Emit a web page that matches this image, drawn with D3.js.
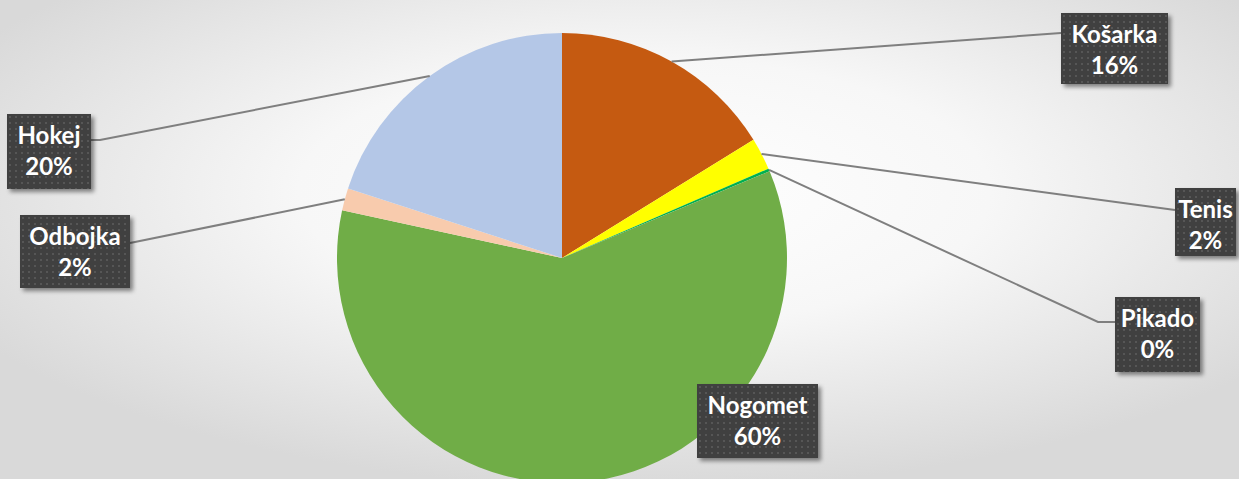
<!DOCTYPE html>
<html>
<head>
<meta charset="utf-8">
<script src="https://cdn.jsdelivr.net/npm/d3@7"></script>
<style>
  html, body { margin: 0; padding: 0; overflow: hidden; }
  #chart { width: 1239px; height: 479px; }
</style>
</head>
<body>
<div id="chart"></div>
<script>
'use strict';
// data (share of answers, %)
let sports = ["Košarka", "Tenis", "Pikado", "Nogomet", "Odbojka", "Hokej"];
let shares = [16.2, 2.3, 0.2, 59.7, 1.6, 20.0];
let percentLabels = ["16%", "2%", "0%", "60%", "2%", "20%"];
let sliceColors = ["#C55A11", "#FFFF00", "#00B050", "#70AD47", "#F8CBAD", "#B4C7E7"];

// label box layout: box x, y, w, h and the leader line end points (null = no leader)
let labelBoxes = [
  { x: 1061, y: 13, w: 107, h: 71, leader: [[1061, 33]] },
  { x: 1175, y: 188, w: 61, h: 68, leader: [[1175, 210]] },
  { x: 1115, y: 297, w: 85, h: 75, leader: [[1098, 322], [1115, 322]] },
  { x: 697, y: 384, w: 121, h: 74, leader: null },
  { x: 20, y: 215, w: 110, h: 73, leader: [[130, 243]] },
  { x: 7, y: 114, w: 84, h: 75, leader: [[100, 140], [91, 140]] }
];

let width = 1239, height = 479;
let cx = 562, cy = 258, radius = 225;

let svg = d3.select("#chart").append("svg")
  .attr("width", width)
  .attr("height", height);

let defs = svg.append("defs");
let grad = defs.append("radialGradient")
  .attr("id", "bg")
  .attr("cx", "52%").attr("cy", "40%").attr("r", "62%");
grad.append("stop").attr("offset", "0%").attr("stop-color", "#ffffff");
grad.append("stop").attr("offset", "45%").attr("stop-color", "#f7f7f7");
grad.append("stop").attr("offset", "100%").attr("stop-color", "#d9d9d9");

let pat = defs.append("pattern")
  .attr("id", "dots")
  .attr("patternUnits", "userSpaceOnUse")
  .attr("width", 6).attr("height", 6);
pat.append("rect").attr("width", 6).attr("height", 6).attr("fill", "#404040");
pat.append("rect").attr("x", 2).attr("y", 2).attr("width", 2).attr("height", 2).attr("fill", "#565656");

let shadow = defs.append("filter").attr("id", "shadow")
  .attr("x", "-20%").attr("y", "-20%").attr("width", "150%").attr("height", "150%");
shadow.append("feDropShadow")
  .attr("dx", 3).attr("dy", 3).attr("stdDeviation", 2)
  .attr("flood-color", "#000").attr("flood-opacity", 0.45);

svg.append("rect").attr("width", width).attr("height", height).attr("fill", "url(#bg)");

let data = sports.map(function (s, i) {
  return { name: s, value: shares[i], label: percentLabels[i], color: sliceColors[i], box: labelBoxes[i] };
});

let pie = d3.pie().sort(null).value(function (d) { return d.value; });
let arcs = pie(data);
let arc = d3.arc().innerRadius(0).outerRadius(radius);
let edgeArc = d3.arc().innerRadius(radius).outerRadius(radius);

let g = svg.append("g").attr("transform", "translate(" + [cx, cy] + ")");
g.selectAll("path.slice")
  .data(arcs)
  .enter()
  .append("path")
  .attr("class", "slice")
  .attr("d", arc)
  .attr("fill", function (d) { return d.data.color; });

// leader lines
let line = d3.line();
svg.selectAll("path.leader")
  .data(arcs.filter(function (d) { return d.data.box.leader; }))
  .enter()
  .append("path")
  .attr("class", "leader")
  .attr("d", function (d) {
    let c = edgeArc.centroid(d);
    let pts = [[c[0] + cx, c[1] + cy]].concat(d.data.box.leader);
    return line(pts);
  })
  .attr("fill", "none")
  .attr("stroke", "#7f7f7f")
  .attr("stroke-width", 2);

// label boxes
let labels = svg.selectAll("g.label")
  .data(data)
  .enter()
  .append("g")
  .attr("class", "label")
  .attr("transform", function (d) { return "translate(" + [d.box.x, d.box.y] + ")"; });

labels.append("rect")
  .attr("width", function (d) { return d.box.w; })
  .attr("height", function (d) { return d.box.h; })
  .attr("fill", "url(#dots)")
  .attr("filter", "url(#shadow)");

labels.append("text")
  .attr("x", function (d) { return d.box.w / 2; })
  .attr("y", 30)
  .attr("text-anchor", "middle")
  .attr("fill", "#ffffff")
  .attr("font-family", "Lato, 'Open Sans', sans-serif")
  .attr("font-weight", "bold")
  .attr("font-size", "24px")
  .text(function (d) { return d.name; });

labels.append("text")
  .attr("x", function (d) { return d.box.w / 2; })
  .attr("y", 61)
  .attr("text-anchor", "middle")
  .attr("fill", "#ffffff")
  .attr("font-family", "Lato, 'Open Sans', sans-serif")
  .attr("font-weight", "bold")
  .attr("font-size", "24px")
  .text(function (d) { return d.label; });
</script>
</body>
</html>
